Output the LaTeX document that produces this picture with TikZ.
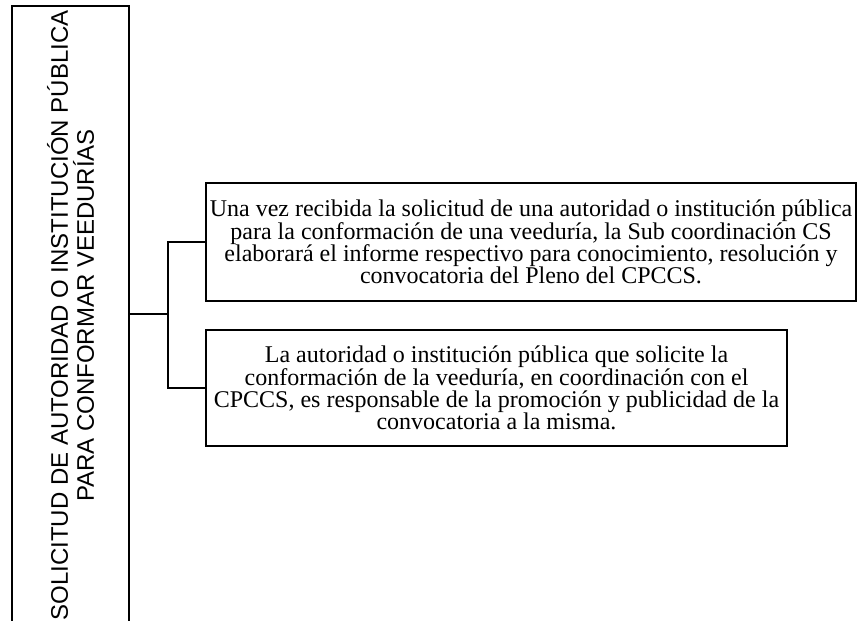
\documentclass[tikz,border=0pt]{standalone}
\usepackage{fontspec}
\setmainfont{Liberation Serif}
\setsansfont{Liberation Sans}
\usepackage{xcolor}

\tikzset{
  stagebox/.style={draw, line width=2pt, rotate=90, minimum width=464.25pt, minimum height=87.75pt, inner sep=0pt, align=center, font=\sffamily\fontsize{18}{19.5}\selectfont},
  notebox/.style={draw, line width=2pt, inner sep=1.5pt, align=center, font=\fontsize{18}{16.6}\selectfont},
  link/.style={line width=2pt}
}

\begin{document}
\begin{tikzpicture}[x=0.75pt,y=0.75pt,yscale=-1,xscale=1]
\useasboundingbox (0,0) rectangle (858,621);
\clip (0,0) rectangle (858,621);

%Shape: Rectangle (left, runs past the bottom)
\node [stagebox] (stage) at (70.5,315.5) {SOLICITUD DE AUTORIDAD O INSTITUCIÓN PÚBLICA\\PARA CONFORMAR VEEDURÍAS};

%Shape: Rectangle
\node [notebox, minimum width=487.5pt, minimum height=88.5pt] (receive) at (531,242) {Una vez recibida la solicitud de una autoridad o institución pública\\para la conformación de una veeduría, la Sub coordinación CS\\elaborará el informe respectivo para conocimiento, resolución y\\convocatoria del Pleno del CPCCS.};
%Shape: Rectangle
\node [notebox, minimum width=435.75pt, minimum height=87pt] (promote) at (496.5,388) {La autoridad o institución pública que solicite la\\conformación de la veeduría, en coordinación con el\\CPCCS, es responsable de la promoción y publicidad de la\\convocatoria a la misma.};

%Straight Lines
\coordinate (fork) at (168,314);
\draw [link] (stage.south |- fork) -- (fork);
\draw [link] (fork) |- (receive.west);
\draw [link] (fork) |- (promote.west);

\end{tikzpicture}
\end{document}
